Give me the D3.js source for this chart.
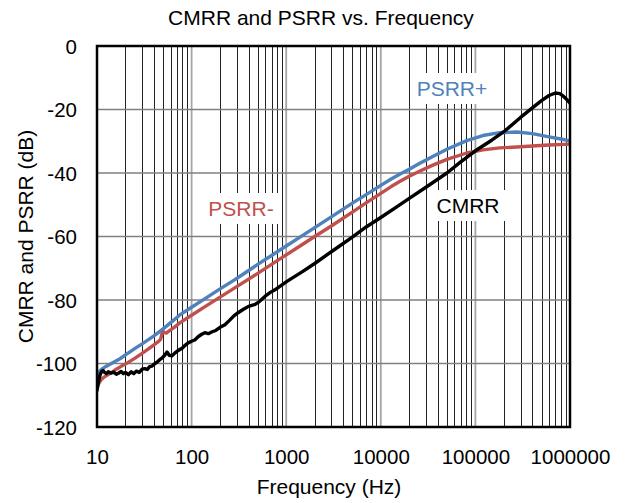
<!DOCTYPE html>
<html>
<head>
<meta charset="utf-8">
<script src="https://cdn.jsdelivr.net/npm/d3@7"></script>
<style>
  html, body { margin: 0; padding: 0; background: #fff; }
  svg { display: block; font-family: "Liberation Sans", Arial, sans-serif; }
</style>
</head>
<body>
<svg id="chart" width="628" height="503"></svg>
<script>
// ---------- data ----------
const chartTitle = "CMRR and PSRR vs. Frequency";
const xTitle = "Frequency (Hz)";
const yTitle = "CMRR and PSRR (dB)";
const xTickValues = [10, 100, 1000, 10000, 100000, 1000000];
const xTickLabels = ["10", "100", "1000", "10000", "100000", "1000000"];
const yTickValues = [0, -20, -40, -60, -80, -100, -120];
const seriesNames = ["PSRR-", "PSRR+", "CMRR"];

const psrrPlus = [
  [10, -104.3], [10.5, -102.6], [11.2, -101.8], [12, -101.2], [13, -100.6], [14, -100.1],
  [15.5, -99.4], [17.5, -98.5], [20, -97.3], [25, -95.3], [30, -93.8], [40, -91.3],
  [50, -89.1], [62, -86.8], [75, -84.7], [100, -82.3], [140, -79.5], [200, -76.5],
  [287, -73.6], [366, -71.5], [500, -68.8], [700, -66], [1000, -63], [1400, -60.2],
  [2000, -57.2], [3000, -53.8], [5000, -49.5], [7000, -46.8], [10000, -43.9],
  [13000, -41.8], [16000, -40.3], [20000, -38.8], [25000, -37.2], [35000, -34.9],
  [50000, -32.5], [81000, -29.8], [120000, -28.2], [180000, -27.3], [275000, -27.1],
  [400000, -27.6], [600000, -28.6], [800000, -29.3], [1000000, -29.9]
];

const psrrMinus = [
  [10, -107.7], [10.4, -106.3], [11, -105.2], [12, -104.2], [14, -103], [16, -101.8],
  [18, -100.9], [21, -99.8], [25, -98.4], [30, -96.8], [35, -95.4], [40, -94.1],
  [44, -93.2], [47, -92.4], [48.5, -90.8], [49.5, -89.6], [51, -90.2], [54, -90.4],
  [58, -89.7], [65, -88.7], [75, -87.2], [100, -84.8], [140, -82], [200, -79.1],
  [300, -75.8], [500, -71.6], [700, -68.8], [1000, -65.8], [1400, -63], [2000, -60],
  [3000, -56.7], [5000, -52.3], [7000, -49.4], [10000, -46.4], [13000, -44.2],
  [16000, -42.6], [20000, -41], [25000, -39.6], [35000, -37.6], [50000, -35.7],
  [81000, -33.7], [120000, -32.7], [180000, -32.1], [275000, -31.8], [400000, -31.5],
  [600000, -31.2], [1000000, -30.9]
];

const cmrr = [
  [10, -108.5], [10.2, -107], [10.5, -105], [10.8, -103.5], [11.2, -102.5], [11.6, -102.2],
  [12, -102.8], [12.6, -103.2], [13.2, -102.6], [14, -103], [15, -102.7], [16, -103.4],
  [17, -103], [18, -102.5], [19, -103.2], [20, -102.8], [21.5, -103.5], [23, -102.6],
  [24.5, -103.2], [26, -102.4], [28, -102.8], [30, -101.8], [32, -101.6], [34, -101.9],
  [36, -101], [38, -100.8], [40, -100.3], [43, -99.6], [46, -98.8], [49, -98.2],
  [52, -97.4], [55, -96.4], [58, -97.4], [62, -97.6], [66, -96.8], [70, -96.2],
  [75, -95.6], [80, -95.1], [86, -94.2], [92, -93.5], [100, -93], [108, -92.6],
  [118, -91.5], [128, -90.8], [138, -90.3], [150, -90.6], [165, -90], [180, -89.6],
  [200, -88.6], [225, -87.8], [250, -86.5], [280, -85], [310, -84], [350, -83],
  [400, -82], [470, -81.4], [520, -80.5], [600, -78.8], [680, -77.6], [760, -76.8],
  [850, -75.8], [1000, -74.3], [1200, -72.8], [1500, -71], [2000, -68.5], [3000, -64.8],
  [5000, -60.2], [7000, -57], [10000, -54], [15000, -50.5], [20000, -48], [30000, -44.5],
  [50000, -40], [70000, -36.5], [100000, -33], [150000, -29.6], [200000, -27],
  [300000, -22.5], [400000, -19.5], [500000, -17.2], [600000, -15.6], [700000, -14.8],
  [780000, -15], [850000, -15.8], [920000, -16.8], [1000000, -18]
];

// ---------- layout ----------
const svg = d3.select("#chart");
const L = 97, R = 570, T = 46, B = 427;
const colors = { "PSRR+": "#4F81BD", "PSRR-": "#C0504D", "CMRR": "#000000" };

const x = d3.scaleLog().domain([10, 1000000]).range([L, R]);
const y = d3.scaleLinear().domain([-120, 0]).range([B, T]);

// background
svg.append("rect").attr("width", 628).attr("height", 503).attr("fill", "#fff");

// minor vertical gridlines
const minor = [];
for (let d = 10; d < 1000000; d *= 10) for (let k = 2; k <= 9; k++) minor.push(d * k);
svg.append("g").selectAll("line").data(minor).join("line")
  .attr("x1", d => Math.round(x(d)) + 0.5).attr("x2", d => Math.round(x(d)) + 0.5)
  .attr("y1", T).attr("y2", B)
  .attr("stroke", "#222").attr("stroke-width", 1);

// major vertical gridlines
svg.append("g").selectAll("line").data(xTickValues.slice(1, -1)).join("line")
  .attr("x1", d => x(d)).attr("x2", d => x(d))
  .attr("y1", T).attr("y2", B)
  .attr("stroke", "#a6a6a6").attr("stroke-width", 1.8);

// horizontal gridlines
svg.append("g").selectAll("line").data(yTickValues.slice(1, -1)).join("line")
  .attr("x1", L).attr("x2", R)
  .attr("y1", d => y(d)).attr("y2", d => y(d))
  .attr("stroke", "#7f7f7f").attr("stroke-width", 1.6);

// series
const line = d3.line().x(d => x(d[0])).y(d => y(d[1])).curve(d3.curveLinear);
svg.append("clipPath").attr("id", "clip").append("rect")
  .attr("x", L).attr("y", T).attr("width", R - L).attr("height", B - T);
const seriesData = { "PSRR-": psrrMinus, "PSRR+": psrrPlus, "CMRR": cmrr };
const gSeries = svg.append("g").attr("clip-path", "url(#clip)");
seriesNames.forEach(name => {
  gSeries.append("path").datum(seriesData[name])
    .attr("d", line).attr("fill", "none")
    .attr("stroke", colors[name]).attr("stroke-width", 3.4)
    .attr("stroke-linejoin", "round").attr("stroke-linecap", "round");
});

// frame
svg.append("rect").attr("x", L).attr("y", T).attr("width", R - L).attr("height", B - T)
  .attr("fill", "none").attr("stroke", "#000").attr("stroke-width", 2.5);

// axes (labels only)
const xAxis = d3.axisBottom(x).tickValues(xTickValues)
  .tickFormat((d, i) => xTickLabels[i]).tickSize(0).tickPadding(0);
const gx = svg.append("g").attr("transform", `translate(0,${B})`).call(xAxis);
gx.select(".domain").remove();
gx.selectAll("text").attr("font-size", 20.5).attr("fill", "#000")
  .attr("font-family", "Liberation Sans, Arial, sans-serif")
  .attr("dy", null).attr("y", 37);

const yAxis = d3.axisLeft(y).tickValues(yTickValues).tickSize(0).tickPadding(0)
  .tickFormat(d => d === 0 ? "0" : "-" + Math.abs(d));
const gy = svg.append("g").attr("transform", `translate(${L},0)`).call(yAxis);
gy.select(".domain").remove();
gy.selectAll("text").attr("font-size", 20.5).attr("fill", "#000")
  .attr("font-family", "Liberation Sans, Arial, sans-serif")
  .attr("x", -20).attr("dy", "0.35em");

// titles
svg.append("text").attr("x", 321).attr("y", 25).attr("text-anchor", "middle")
  .attr("font-size", 21).attr("fill", "#000").text(chartTitle);
svg.append("text").attr("x", 329).attr("y", 494).attr("text-anchor", "middle")
  .attr("font-size", 21).attr("fill", "#000").text(xTitle);
svg.append("text").attr("transform", `translate(33,${(T + B) / 2}) rotate(-90)`)
  .attr("text-anchor", "middle").attr("font-size", 21).attr("fill", "#000").text(yTitle);

// series labels with white boxes
const labelPos = { "PSRR+": [452, 96], "PSRR-": [241, 216], "CMRR": [468, 213] };
seriesNames.forEach(name => {
  const [lx, ly] = labelPos[name];
  const g = svg.append("g");
  const t = g.append("text").attr("x", lx).attr("y", ly).attr("text-anchor", "middle")
    .attr("font-size", 21).attr("fill", colors[name]).text(name);
  const bb = t.node().getBBox();
  g.insert("rect", "text").attr("x", bb.x - 6).attr("y", bb.y - 4)
    .attr("width", bb.width + 12).attr("height", bb.height + 8).attr("fill", "#fff");
});
</script>
</body>
</html>
